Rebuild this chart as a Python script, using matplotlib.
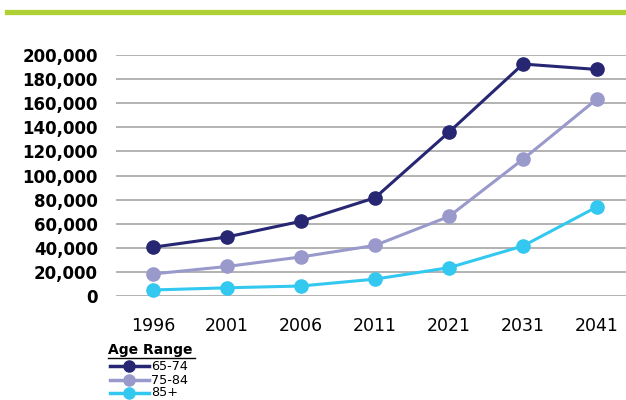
import matplotlib
matplotlib.use("Agg")
import matplotlib.pyplot as plt
from matplotlib.lines import Line2D
from matplotlib.ticker import FuncFormatter

years = ["1996", "2001", "2006", "2011", "2021", "2031", "2041"]
s_65_74 = [40500, 49000, 62000, 81500, 136000, 192500, 188000]
s_75_84 = [18300, 24500, 32400, 42000, 66000, 113500, 163500]
s_85p = [5000, 6800, 8300, 14000, 23500, 41500, 74000]
series_names = ["65-74", "75-84", "85+"]
colors = ["#262673", "#9999cc", "#33c8f0"]
yticks = list(range(0, 200001, 20000))

fig = plt.figure(figsize=(6.26, 4.0), dpi=100)
W, H = 626, 400
ax = fig.add_axes([116 / W, (H - 296) / H, (626 - 116) / W, (296 - 55) / H])

x = list(range(len(years)))
lines = []
for vals, c, name in zip([s_65_74, s_75_84, s_85p], colors, series_names):
    ln, = ax.plot(x, vals, color=c, lw=2.2, marker="o", ms=9.5, label=name,
                  clip_on=False, zorder=3)
    lines.append(ln)

ax.set_xlim(-0.5, (626 - 116) / 74 - 0.5)
ax.set_ylim(0, 200000)
ax.set_yticks(yticks)
ax.yaxis.set_major_formatter(FuncFormatter(lambda v, p: f"{int(v):,}"))
ax.set_xticks(x)
ax.set_xticklabels(years)
ax.grid(axis="y", color="#a6a6a6", lw=1.2)
ax.set_axisbelow(True)
for sp in ax.spines.values():
    sp.set_visible(False)
ax.tick_params(axis="both", length=0)
ax.tick_params(axis="y", pad=13, labelsize=12)
ax.tick_params(axis="x", pad=15, labelsize=12.5)
for lab in ax.get_yticklabels():
    lab.set_fontweight("bold")

# top green bar
fig.add_artist(Line2D([7 / W, 1.0], [1 - 11.5 / H, 1 - 11.5 / H], color="#b0d136", lw=3.8))

# legend
fig.text(108 / W, 1 - 350 / H, "Age Range", fontsize=10, fontweight="bold",
         va="center", ha="left")
fig.add_artist(Line2D([108 / W, 195 / W], [1 - 357.5 / H, 1 - 357.5 / H], color="black", lw=1))
ys = [366, 380, 393]
for ln, yy, name in zip(lines, ys, series_names):
    fig.add_artist(Line2D([110 / W, 149 / W], [1 - yy / H, 1 - yy / H], color=ln.get_color(),
                          lw=2.5))
    fig.add_artist(Line2D([129 / W], [1 - yy / H], color=ln.get_color(), marker="o", ms=8))
    fig.text(151 / W, 1 - yy / H, name, fontsize=9.2, va="center", ha="left")

fig.savefig("out.png", dpi=100)
